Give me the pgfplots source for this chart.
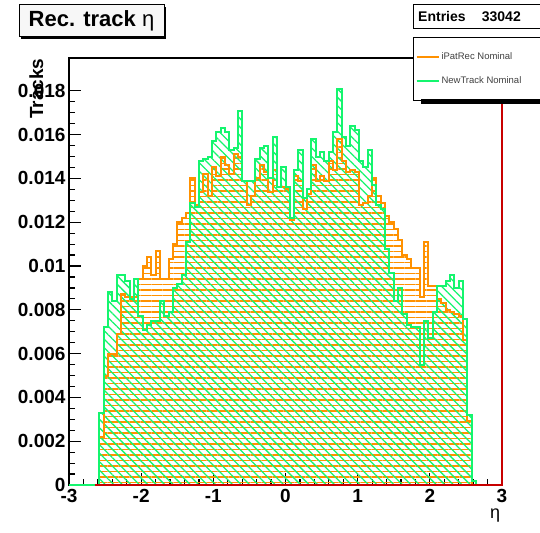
\documentclass[border=0pt]{standalone}
\usepackage{fontspec}
\setmainfont{Liberation Sans}
\usepackage{pgfplots}
\pgfplotsset{compat=1.18}
\usepackage{pgfplotstable}
\usetikzlibrary{patterns.meta,shadows}
\definecolor{rorange}{RGB}{255,145,0}
\definecolor{rgreen}{RGB}{20,245,110}
\definecolor{rred}{RGB}{200,0,0}

\pgfplotstableread{
x G O
-3.00 0 0
-2.58 0.0033 0.0022
-2.52 0.0072 0.0050
-2.46 0.0088 0.0060
-2.40 0.0084 0.0060
-2.34 0.0096 0.0069
-2.28 0.0096 0.0087
-2.22 0.0093 0.0086
-2.16 0.0085 0.0086
-2.10 0.0094 0.0086
-2.04 0.0077 0.0094
-1.98 0.0071 0.0100
-1.92 0.0073 0.0104
-1.86 0.0075 0.0096
-1.80 0.0075 0.0107
-1.74 0.0084 0.0094
-1.68 0.0077 0.0094
-1.62 0.0079 0.0103
-1.56 0.0090 0.0110
-1.50 0.0092 0.0120
-1.44 0.0096 0.0122
-1.38 0.0111 0.0124
-1.32 0.0129 0.0140
-1.26 0.0127 0.0128
-1.20 0.0148 0.0134
-1.14 0.0149 0.0142
-1.08 0.0150 0.0132
-1.02 0.0157 0.0145
-0.96 0.0161 0.0141
-0.90 0.0163 0.0150
-0.84 0.0161 0.0146
-0.78 0.0153 0.0142
-0.72 0.0154 0.0151
-0.66 0.0171 0.0150
-0.60 0.0139 0.0139
-0.54 0.0139 0.0128
-0.48 0.0139 0.0132
-0.42 0.0149 0.0140
-0.36 0.0154 0.0146
-0.30 0.0155 0.0143
-0.24 0.0140 0.0134
-0.18 0.0159 0.0144
-0.12 0.0136 0.0136
-0.06 0.0145 0.0136
0.00 0.0136 0.0135
0.06 0.0122 0.0121
0.12 0.0144 0.0141
0.18 0.0153 0.0139
0.24 0.0131 0.0126
0.30 0.0135 0.0133
0.36 0.0158 0.0146
0.42 0.0150 0.0139
0.48 0.0152 0.0141
0.54 0.0148 0.0139
0.60 0.0152 0.0148
0.66 0.0161 0.0144
0.72 0.0181 0.0158
0.78 0.0159 0.0148
0.84 0.0155 0.0143
0.90 0.0164 0.0144
0.96 0.0162 0.0143
1.02 0.0148 0.0128
1.08 0.0145 0.0129
1.14 0.0153 0.0132
1.20 0.0137 0.0140
1.26 0.0128 0.0132
1.32 0.0126 0.0129
1.38 0.0108 0.0123
1.44 0.0097 0.0120
1.50 0.0084 0.0117
1.56 0.0090 0.0112
1.62 0.0078 0.0105
1.68 0.0073 0.0103
1.74 0.0072 0.0099
1.80 0.0072 0.0099
1.86 0.0055 0.0086
1.92 0.0075 0.0111
1.98 0.0067 0.0091
2.04 0.0079 0.0091
2.10 0.0091 0.0085
2.16 0.0091 0.0083
2.22 0.0093 0.0080
2.28 0.0096 0.0079
2.34 0.0090 0.0078
2.40 0.0093 0.0077
2.46 0.0076 0.0066
2.52 0.0032 0.0029
2.58 0.0002 0.0000
2.64 0 0
3.00 0 0
}\hist

\begin{document}
\begin{tikzpicture}[x=1pt,y=1pt]
\useasboundingbox (0,0) rectangle (540,532);
\begin{axis}[
  at={(69pt,47pt)}, anchor=south west,
  scale only axis, width=433pt, height=427pt,
  xmin=-3, xmax=3, ymin=0, ymax=0.0195,
  clip=false,
  axis line style={line width=1.2pt},
  xtick={-3,-2,-1,0,1,2,3},
  xticklabels={-3,-2,-1,0,1,2,3},
  minor x tick num=4,
  ytick={0,0.002,0.004,0.006,0.008,0.01,0.012,0.014,0.016,0.018},
  yticklabels={0,0.002,0.004,0.006,0.008,0.01,0.012,0.014,0.016,0.018},
  minor y tick num=3,
  scaled y ticks=false,
  tick align=inside,
  xtick pos=bottom, ytick pos=left,
  major tick length=12pt, minor tick length=6pt,
  every tick/.style={black, line width=1.2pt},
  ticklabel style={font=\fontsize{19}{19}\selectfont\bfseries},
  xticklabel style={inner sep=4pt},
  xlabel={η},
  xlabel style={at={(axis description cs:0.984,-0.0796)}, anchor=base, font=\fontsize{18}{18}\selectfont},
  ylabel={Tracks},
  ylabel style={at={(axis description cs:-0.060,1.007)}, anchor=base east, font=\fontsize{19}{19}\selectfont\bfseries},
  every axis title shift=0pt,
  title={Rec. track {\mdseries η}},
  title style={at={(axis description cs:0.052,1.0867)}, anchor=center, draw=black, line width=1pt,
    fill=gray!6, minimum width=145pt, minimum height=32pt,
    font=\fontsize{22}{22}\selectfont\bfseries,
    drop shadow={shadow xshift=2pt, shadow yshift=-2pt, fill=black, opacity=1}},
  legend style={at={(axis description cs:0.7945,1.0492)}, anchor=north west,
    draw=black, line width=1pt, fill=white,
    font=\fontsize{9.5}{11}\selectfont, text=black!75,
    inner xsep=2pt, inner ysep=13.5pt, row sep=11pt},
  legend cell align=left,
  legend image code/.code={\draw[#1] (0pt,0pt) -- (22pt,0pt);},
]
\addplot[const plot mark left, draw=none, pattern={Lines[angle=0, distance=5.5pt, line width=1.3pt]}, pattern color=rorange, forget plot] table[x=x, y=O] {\hist};
\addplot[const plot mark left, draw=none, pattern={Lines[angle=-45, distance=6pt, line width=1.3pt]}, pattern color=rgreen, forget plot] table[x=x, y=G] {\hist};
\addplot[const plot mark left, rorange, line width=2pt, forget plot] table[x=x, y=O] {\hist};
\addplot[const plot mark left, rgreen, line width=2pt, forget plot] table[x=x, y=G] {\hist};
\addplot[rred, line width=1.5pt, forget plot] coordinates {(-2.64,0) (3,0) (3,0.0195)};
\addlegendimage{rorange, line width=2pt}
\addlegendentry{iPatRec Nominal\hspace*{40pt}}
\addlegendimage{rgreen, line width=2pt}
\addlegendentry{NewTrack Nominal\hspace*{40pt}}
\end{axis}
\fill[black] (421,428) rectangle (560,432.5);
\draw[line width=1pt, fill=white] (413,503) rectangle (560,527);
\node[anchor=west, font=\fontsize{14}{14}\selectfont\bfseries, inner sep=0pt] at (418,515) {Entries};
\node[anchor=east, font=\fontsize{14}{14}\selectfont\bfseries, inner sep=0pt] at (521,515) {33042};
\end{tikzpicture}
\end{document}
